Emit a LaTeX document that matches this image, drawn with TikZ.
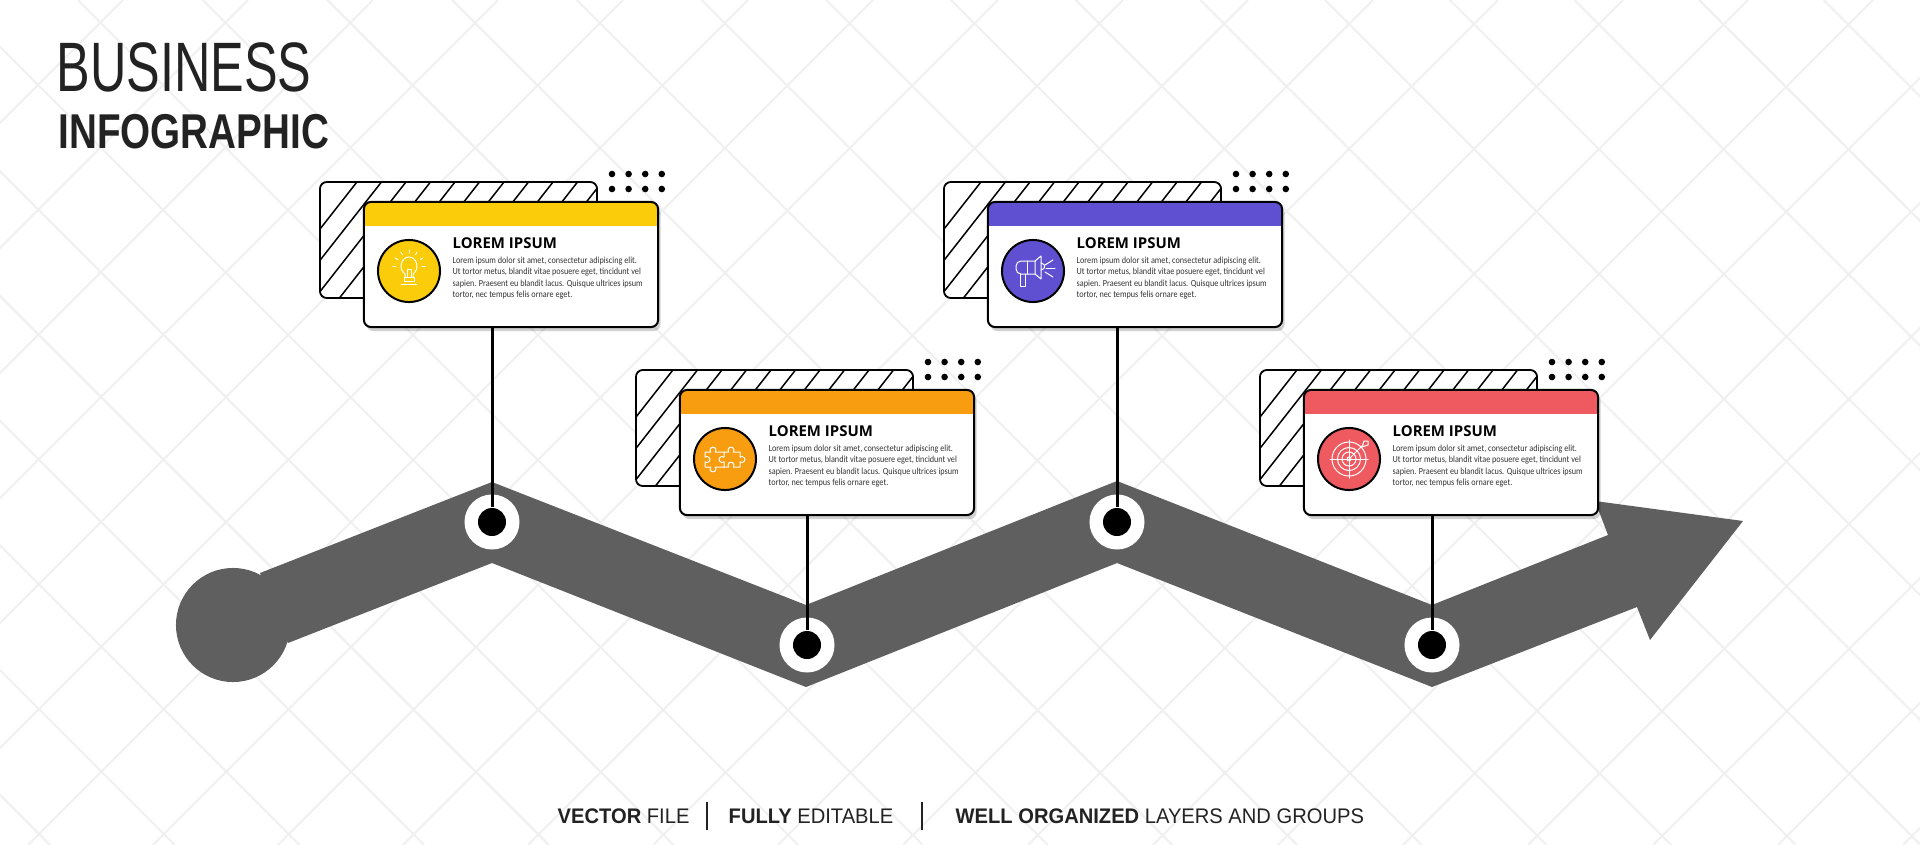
\documentclass[tikz,border=0pt]{standalone}
\usepackage{xcolor}
\usepackage{fontspec}
\usepackage{tikz}
\usetikzlibrary{arrows.meta,positioning,shadows,calc}
\setmainfont{Liberation Sans}
\newfontfamily\headlight[FakeStretch=0.72]{Liberation Sans}
\newfontfamily\headbold[FakeStretch=0.79]{Liberation Sans}
\newfontfamily\footfont[FakeStretch=0.955]{Liberation Sans}
\newfontfamily\cardhead{Open Sans}
\newfontfamily\cardbody[FakeStretch=0.88]{Carlito}
\definecolor{barYellow}{HTML}{FBCC0A}
\definecolor{barOrange}{HTML}{F89C10}
\definecolor{barPurple}{HTML}{5F50D2}
\definecolor{barRed}{HTML}{EE5A60}
\definecolor{bandGrey}{HTML}{5F5F5F}
\definecolor{inkDark}{HTML}{222222}
\newcommand{\loremtext}{Lorem ipsum dolor sit amet, consectetur adipiscing elit.\\Ut tortor metus, blandit vitae posuere eget, tincidunt vel\\sapien. Praesent eu blandit lacus. Quisque ultrices ipsum\\tortor, nec tempus felis ornare eget.}

\begin{document}
\begin{tikzpicture}[x=0.01cm, y=-0.01cm,
  lattice/.style={draw=black!6, line width=0.02cm},
  hatchbox/.style={draw=black, line width=0.018cm, rounded corners=0.07cm, fill=white, minimum width=2.77cm, minimum height=1.16cm, inner sep=0pt},
  cardbox/.style={draw=black, line width=0.02cm, rounded corners=0.07cm, fill=white, minimum width=2.94cm, minimum height=1.25cm, inner sep=0pt, drop shadow={shadow xshift=0.025cm, shadow yshift=-0.04cm, fill=black, opacity=0.18}},
  iconbox/.style={draw=black, line width=0.02cm, circle, minimum size=0.62cm, inner sep=0pt},
  titletext/.style={anchor=base west, inner sep=0pt, text=black, font=\cardhead\bfseries\fontsize{4.25}{5}\selectfont},
  bodytext/.style={anchor=north west, inner sep=0pt, align=left, text=black!80, font=\cardbody\fontsize{2.65}{3.2}\selectfont},
  ring/.style={circle, fill=white, minimum size=0.55cm, inner sep=0pt},
  pin/.style={circle, fill=black, minimum size=0.28cm, inner sep=0pt},
  stem/.style={draw=black, line width=0.03cm},
  iconline/.style={draw=white, line width=0.01cm, line join=round, line cap=round},
  knob/.style={radius=0.03cm},
  foot/.style={anchor=base west, inner sep=0pt, text=inkDark, font=\footfont\fontsize{6}{7}\selectfont}]
\useasboundingbox (0,0) rectangle (1920,845);
\fill[white] (0,0) rectangle (1920,845);

% background lattice
\begin{scope}
\clip (0,0) rectangle (1920,845);
\foreach \k in {0,...,21}{\draw[lattice] (123+125*\k,0)--(123+125*\k-845,845);}
\foreach \k in {-8,...,15}{\draw[lattice] (78+124.7*\k,0)--(78+124.7*\k+845,845);}
\end{scope}

% arrow band
\fill[bandGrey] (233,625) circle[radius=0.57cm];
\fill[bandGrey] (260,573)--(492,482)--(806,605)--(1117,481)--(1432,605)--(1608,535)--(1595,501)--(1743,521)--(1650,640)--(1637,607)--(1432,687)--(1117,563)--(806,687)--(492,563)--(288,643)--cycle;

\node[ring] (ringa) at (492,522) {};
\node[ring] (ringb) at (807,645) {};
\node[ring] (ringc) at (1117,522) {};
\node[ring] (ringd) at (1432,645) {};
\node[pin] (pina) at (ringa) {};
\node[pin] (pinb) at (ringb) {};
\node[pin] (pinc) at (ringc) {};
\node[pin] (pind) at (ringd) {};

% cards
\foreach \n/\x/\y/\c in {a/364/202/barYellow,b/680/390/barOrange,c/988/202/barPurple,d/1304/390/barRed}{
  \node[hatchbox, path picture={\foreach \k in {0,...,14}{\draw[black, line width=0.015cm] ([xshift=-0.54cm+\k*0.245cm]path picture bounding box.south west)--++(0.91cm,1.16cm);}}] (hatch\n) at (\x+94.5,\y+38) {};
  \foreach \i in {0,...,3}{\foreach \j in {0,1}{\fill[black] (\x+248+\i*16.6,\y-28+\j*15) circle[radius=0.033cm];}}
  \node[cardbox, path picture={\fill[\c, sharp corners] (path picture bounding box.north west) rectangle ([yshift=-0.24cm]path picture bounding box.north east);}] (card\n) at (\x+147,\y+62.5) {};
  \node[iconbox, fill=\c] (icon\n) at (\x+45,\y+69) {};
  \node[titletext] (title\n) at (\x+88,\y+46) {LOREM IPSUM};
  \node[bodytext] (body\n) at (\x+88,\y+54.5) {\loremtext};
}

\foreach \n in {a,b,c,d}{\draw[stem] (pin\n |- card\n.south)--(pin\n);}

% bulb
\begin{scope}[shift={(icona.center)}]
\draw[iconline] (-4,6)--(-4,3) .. controls (-11,-2) and (-8,-14) .. (0,-14) .. controls (8,-14) and (11,-2) .. (4,3)--(4,6);
\draw[iconline] (-2,6)--(-2,-2)--(2,-2)--(2,6);
\draw[iconline] (-5,6)--(5,6)--(5,10)--(-5,10)--cycle;
\draw[iconline] (-8,13)--(8,13);
\foreach \a in {180,210,...,360}{\draw[iconline] ($(0,-5)+(\a:13)$)--($(0,-5)+(\a:16)$);}
\end{scope}

% puzzle
\begin{scope}[shift={(iconb.center)}]
\draw[iconline] (-1,-7)--(-9.7,-7) arc[start angle=-40,end angle=220,knob]--(-20,-7)--(-20,-1.8) arc[start angle=130,end angle=-130,knob]--(-20,8)--(-14.3,8) arc[start angle=140,end angle=400,knob]--(-1,8);
\draw[iconline] (-1,-7)--(3.7,-7) arc[start angle=220,end angle=-40,knob]--(15,-7)--(15,-1.8) arc[start angle=130,end angle=-130,knob]--(15,8)--(8.3,8) arc[start angle=-40,end angle=220,knob]--(-1,8)--(-1,2.8) arc[start angle=310,end angle=50,knob]--cycle;
\end{scope}

% megaphone
\begin{scope}[shift={(iconc.center)}]
\draw[iconline, rounded corners=0.05cm] (2,-10)--(-17,-10)--(-17,3)--(2,3);
\draw[iconline] (2,-10)--(8,-15)--(8,8)--(2,3)--cycle;
\draw[iconline] (-6,-10)--(-6,3);
\draw[iconline] (8,-8) .. controls (13,-7) and (13,-2) .. (8,-1);
\draw[iconline] (-13,3)--(-13,15)--(-8,15)--(-8,3);
\draw[iconline] (12,-6)--(20,-11);
\draw[iconline] (13,-3)--(22,-3);
\draw[iconline] (12,1)--(20,6);
\end{scope}

% target
\begin{scope}[shift={(icond.center)}]
\foreach \r in {0.17,0.115,0.07,0.02}{\draw[iconline] (0,0) circle[radius=\r cm];}
\draw[iconline] (-19,0)--(19,0);
\draw[iconline] (0,-19)--(0,19);
\draw[iconline] (0,0)--(14,-14);
\draw[iconline] (13,-12)--(15,-18)--(19,-18)--(19,-14)--cycle;
\end{scope}

% headline
\node[anchor=base west, inner sep=0pt, text=inkDark, font=\headlight\fontsize{19.9}{22}\selectfont] (head) at (56,91) {BUSINESS};
\node[anchor=base west, inner sep=0pt, text=inkDark, font=\headbold\bfseries\fontsize{13.9}{16}\selectfont] (subhead) at (58,148) {INFOGRAPHIC};

% footer
\node[foot] (foota) at (557,823) {\textbf{VECTOR} FILE};
\node[foot] (footb) at (728,823) {\textbf{FULLY} EDITABLE};
\node[foot] (footc) at (955,823) {\textbf{WELL ORGANIZED} LAYERS AND GROUPS};
\coordinate (bartopa) at (707,802);
\coordinate (barbota) at (707,830);
\coordinate (bartopb) at (922,802);
\coordinate (barbotb) at (922,830);
\draw[inkDark, line width=0.012cm] (bartopa)--(barbota);
\draw[inkDark, line width=0.012cm] (bartopb)--(barbotb);
\end{tikzpicture}
\end{document}
